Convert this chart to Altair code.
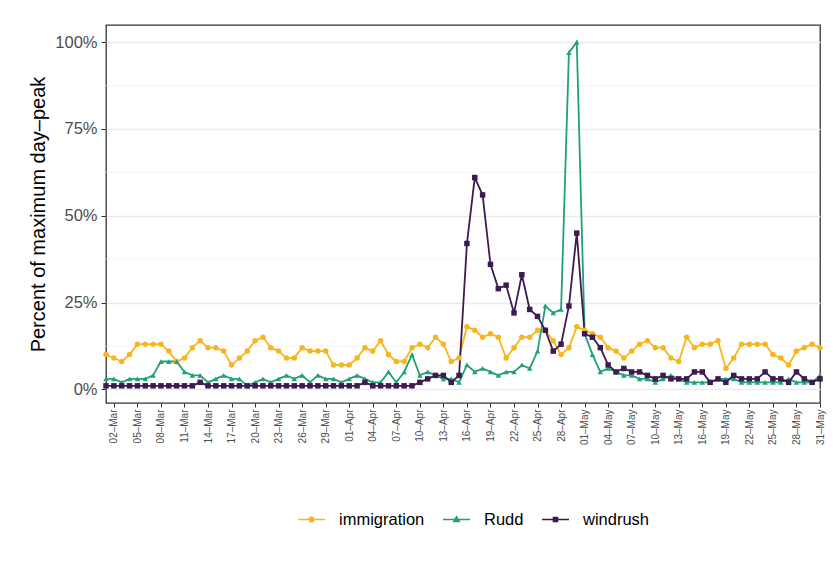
import altair as alt
import pandas as pd

# ---- data ----
dates = pd.date_range("2018-03-01", "2018-05-31", freq="D").strftime("%Y-%m-%dT00:00:00").tolist()
series_names = ["immigration", "Rudd", "windrush"]

immigration = [
    10, 9, 8, 10, 13, 13, 13, 13, 11, 8, 9, 12, 14, 12, 12, 11, 7, 9, 11, 14, 15, 12, 11, 9, 9, 12, 11, 11, 11, 7, 7,
    7, 9, 12, 11, 14, 10, 8, 8, 12, 13, 12, 15, 13, 8, 9, 18, 17, 15, 16, 15, 9, 12, 15, 15, 17, 17, 14, 10, 12, 18,
    17, 16, 15, 12, 11, 9, 11, 13, 14, 12, 12, 9, 8, 15, 12, 13, 13, 14, 6, 9, 13, 13, 13, 13, 10, 9, 7, 11, 12, 13, 12,
]
rudd = [
    3, 3, 2, 3, 3, 3, 4, 8, 8, 8, 5, 4, 4, 2, 3, 4, 3, 3, 1, 2, 3, 2, 3, 4, 3, 4, 2, 4, 3, 3, 2,
    3, 4, 3, 2, 2, 5, 2, 5, 10, 4, 5, 4, 3, 3, 2, 7, 5, 6, 5, 4, 5, 5, 7, 6, 11, 24, 22, 23, 97, 100,
    16, 10, 5, 6, 5, 4, 4, 3, 3, 2, 3, 4, 3, 2, 2, 2, 2, 3, 3, 3, 2, 2, 2, 2, 2, 2, 3, 2, 2, 2, 4,
]
windrush = [
    1, 1, 1, 1, 1, 1, 1, 1, 1, 1, 1, 1, 2, 1, 1, 1, 1, 1, 1, 1, 1, 1, 1, 1, 1, 1, 1, 1, 1, 1, 1,
    1, 1, 2, 1, 1, 1, 1, 1, 1, 2, 3, 4, 4, 2, 4, 42, 61, 56, 36, 29, 30, 22, 33, 23, 21, 17, 11, 13, 24, 45,
    16, 15, 12, 7, 5, 6, 5, 5, 4, 3, 4, 3, 3, 3, 5, 5, 2, 3, 2, 4, 3, 3, 3, 5, 3, 3, 2, 5, 3, 2, 3,
]

colors = ["#F9B51F", "#22A07A", "#3D1A50"]
point_shapes = ["circle", "triangle-up", "square"]
legend_shapes = [
    "M-1,0H1M-0.17,0A0.17,0.17 0 1,0 0.17,0A0.17,0.17 0 1,0 -0.17,0Z",
    "M-1,0H1M0,-0.2L0.2,0.15L-0.2,0.15Z",
    "M-1,0H1M-0.15,-0.15H0.15V0.15H-0.15Z",
]
x_ticks = pd.date_range("2018-03-02", "2018-05-31", freq="3D")
y_ticks = [0, 25, 50, 75, 100]
y_minor = [12.5, 37.5, 62.5, 87.5]

rows = []
for name, vals in zip(series_names, [immigration, rudd, windrush]):
    for d, v in zip(dates, vals):
        rows.append({"date": d, "series": name, "value": v})
df = pd.DataFrame(rows)

x_values = [alt.DateTime(year=t.year, month=t.month, date=t.day) for t in x_ticks]

x_enc = alt.X(
    "date:T",
    scale=alt.Scale(domain=[alt.DateTime(year=2018, month=3, date=1),
                            alt.DateTime(year=2018, month=5, date=31)], nice=False),
    axis=alt.Axis(
        values=x_values,
        labelExpr="timeFormat(datum.value, '%d') + '–' + timeFormat(datum.value, '%b')",
        labelAngle=-90, labelFontSize=10, labelColor="#4D4D4D", labelPadding=2,
        labelOverlap=False, labelFlush=False, labelBound=False, labelSeparation=0,
        tickColor="#333333", tickSize=4, tickWidth=1, grid=False, domain=False, title=None,
    ),
)
y_scale = alt.Scale(domain=[-3.95, 104.95], nice=False, zero=False)
y_axis = alt.Axis(
    values=y_ticks, labelExpr="datum.value + '%'",
    labelFontSize=16.5, labelColor="#4D4D4D", labelPadding=4,
    tickColor="#333333", tickSize=5, tickWidth=1,
    grid=True, gridColor="#EBEBEB", gridWidth=1.4, domain=False,
    title="Percent of maximum day–peak", titleFontSize=20, titleFontWeight="normal",
    titleColor="black", titlePadding=6,
)
y_enc = alt.Y("value:Q", scale=y_scale, axis=y_axis)

color_scale = alt.Scale(domain=series_names, range=colors)

minor = alt.Chart(pd.DataFrame({"m": y_minor})).mark_rule(color="#F0F0F0", strokeWidth=0.8).encode(
    y=alt.Y("m:Q", scale=y_scale, axis=y_axis)
)

lines = alt.Chart(df).mark_line(strokeWidth=1.8).encode(
    x=x_enc, y=y_enc,
    color=alt.Color("series:N", scale=color_scale, legend=None),
    detail="series:N",
)

point_layers = [
    alt.Chart(df).transform_filter(alt.datum.series == name).mark_point(
        filled=True, opacity=1, size=30, shape=shp
    ).encode(
        x=x_enc, y=y_enc,
        color=alt.Color("series:N", scale=color_scale, legend=None),
    )
    for name, shp in zip(series_names, point_shapes)
]

leg = dict(
    orient="none", legendX=191, legendY=480, direction="horizontal", title=None,
    labelFontSize=16.5, labelColor="black", symbolSize=729, symbolStrokeWidth=1.6,
    labelOffset=13, columnPadding=14, symbolOpacity=1,
)
legend_layer = alt.Chart(pd.DataFrame({"series": series_names})).transform_filter("false").mark_point(
    filled=True, opacity=1
).encode(
    fill=alt.Fill("series:N", scale=alt.Scale(domain=series_names, range=colors), legend=alt.Legend(**leg)),
    stroke=alt.Stroke("series:N", scale=alt.Scale(domain=series_names, range=colors), legend=alt.Legend(**leg)),
    shape=alt.Shape("series:N", scale=alt.Scale(domain=series_names, range=legend_shapes), legend=alt.Legend(**leg)),
)

chart = alt.layer(minor, lines, *point_layers, legend_layer).resolve_scale(
    fill="independent", stroke="independent", shape="independent"
).properties(
    width=714, height=378,
    padding={"left": 98, "top": 17, "right": 10, "bottom": 154},
    autosize="none",
).configure(
    font="Liberation Sans",
).configure_view(
    stroke="#333333", strokeWidth=1.3,
)

chart.save("out.html", embed_options={"renderer": "svg", "actions": False})
